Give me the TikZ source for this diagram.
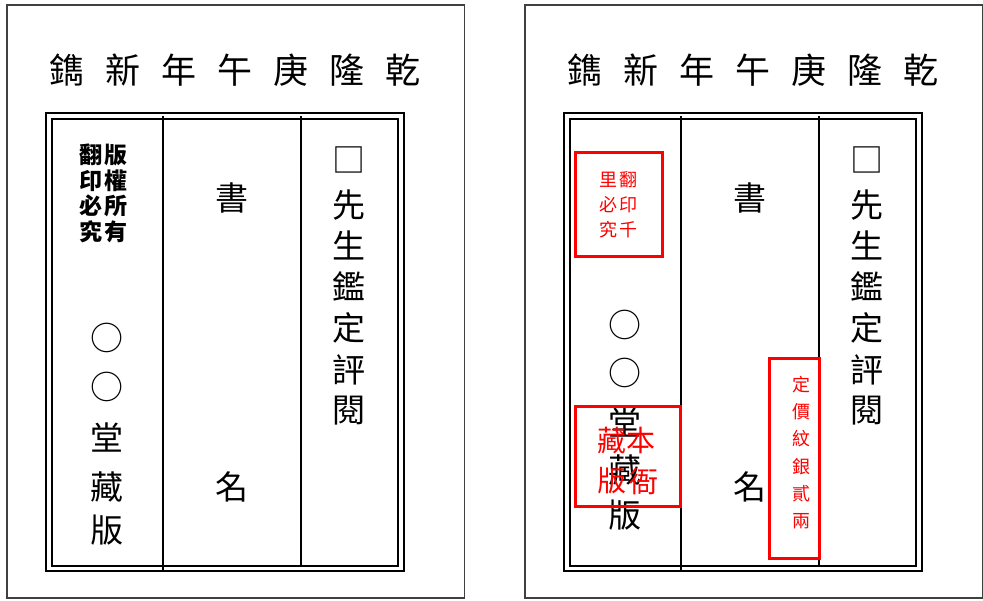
\documentclass[tikz,border=0pt]{standalone}
\usepackage{fontspec}
\newfontfamily\cjk{Noto Sans CJK TC}

\tikzset{
  panel/.style={draw=black!75, line width=1.2pt},
  rule/.style={draw, line width=1.9pt},
  hanzi/.style={anchor=center, inner sep=0pt, font=\cjk\fontsize{33}{33}\selectfont},
  caption/.style={hanzi, font=\cjk\fontsize{35}{35}\selectfont},
  notice/.style={anchor=center, inner sep=0pt, font=\cjk\bfseries\fontsize{23}{23}\selectfont},
  stamp/.style={draw=red, line width=3pt},
  stamptext/.style={anchor=center, inner sep=0pt, text=red, font=\cjk\fontsize{18}{18}\selectfont},
  stampbig/.style={stamptext, font=\cjk\fontsize{29}{29}\selectfont},
}

% parts shared by both pages
\newcommand\printpage{%
  \draw[panel] (7,5) rectangle (464.5,598);
  \node[caption] (title) at (235,70) {鐫\hspace{21pt}新\hspace{21pt}年\hspace{21pt}午\hspace{21pt}庚\hspace{21pt}隆\hspace{21pt}乾};
  \draw[rule] (46,113) rectangle (404,571);
  \draw[rule] (52,119) rectangle (398,566);
  \draw[rule] (163,116) -- (163,570);
  \draw[rule] (301,116) -- (301,567);
  \node[hanzi] (shu) at (232,198) {書};
  \node[hanzi] (ming) at (232,487) {名};
  \node[hanzi] (box) at (349,160) {□};
  \node[hanzi] (xian) at (349,205) {先};
  \node[hanzi] (sheng) at (349,245) {生};
  \node[hanzi] (jian) at (349,286) {鑑};
  \node[hanzi] (ding) at (349,328) {定};
  \node[hanzi] (ping) at (349,370) {評};
  \node[hanzi] (yue) at (349,411) {閱};
}

\begin{document}
\begin{tikzpicture}[x=1pt, y=-1pt]
  \useasboundingbox (0,0) rectangle (983,600);

  % left page
  \begin{scope}[name prefix=L-]
    \printpage
    \node[notice] (ban) at (116,155) {版};
    \node[notice] (quan) at (116,181) {權};
    \node[notice] (suo) at (116,206) {所};
    \node[notice] (you) at (116,232) {有};
    \node[notice] (fan) at (91,155) {翻};
    \node[notice] (yin) at (91,181) {印};
    \node[notice] (bi) at (91,206) {必};
    \node[notice] (jiu) at (91,232) {究};
    \node[hanzi] (ring1) at (107,338) {○};
    \node[hanzi] (ring2) at (107,387) {○};
    \node[hanzi] (tang) at (107,437) {堂};
    \node[hanzi] (cang) at (107,487) {藏};
    \node[hanzi] (banb) at (107,530) {版};
  \end{scope}

  % right page, with the red seals
  \begin{scope}[name prefix=R-, shift={(518,0)}]
    \printpage
    \node[hanzi] (ring1) at (107,325) {○};
    \node[hanzi] (ring2) at (107,373) {○};
    \node[hanzi] (tang) at (107,422) {堂};
    \node[hanzi] (cang) at (107,470) {藏};
    \node[hanzi] (banb) at (107,515) {版};
    % seal 1
    \draw[stamp] (57,152) rectangle (144,256);
    \node[stamptext] (li) at (90,180) {里};
    \node[stamptext] (bi) at (90,205) {必};
    \node[stamptext] (jiu) at (90,230) {究};
    \node[stamptext] (fan) at (110,180) {翻};
    \node[stamptext] (yin) at (110,205) {印};
    \node[stamptext] (qian) at (110,230) {千};
    % seal 2
    \draw[stamp] (57,406) rectangle (162,506);
    \node[stampbig] (cangr) at (94,440) {藏};
    \node[stampbig] (ben) at (123,440) {本};
    \node[stampbig] (banr) at (94,481) {版};
    \node[stampbig] (ya) at (126,481) {衙};
    % seal 3
    \draw[stamp] (251,358) rectangle (301,558);
    \node[stamptext] (dingj) at (283,385) {定};
    \node[stamptext] (jia) at (283,412) {價};
    \node[stamptext] (wen) at (283,439) {紋};
    \node[stamptext] (yin2) at (283,467) {銀};
    \node[stamptext] (er) at (283,494) {貳};
    \node[stamptext] (liang) at (283,521) {兩};
  \end{scope}
\end{tikzpicture}
\end{document}
